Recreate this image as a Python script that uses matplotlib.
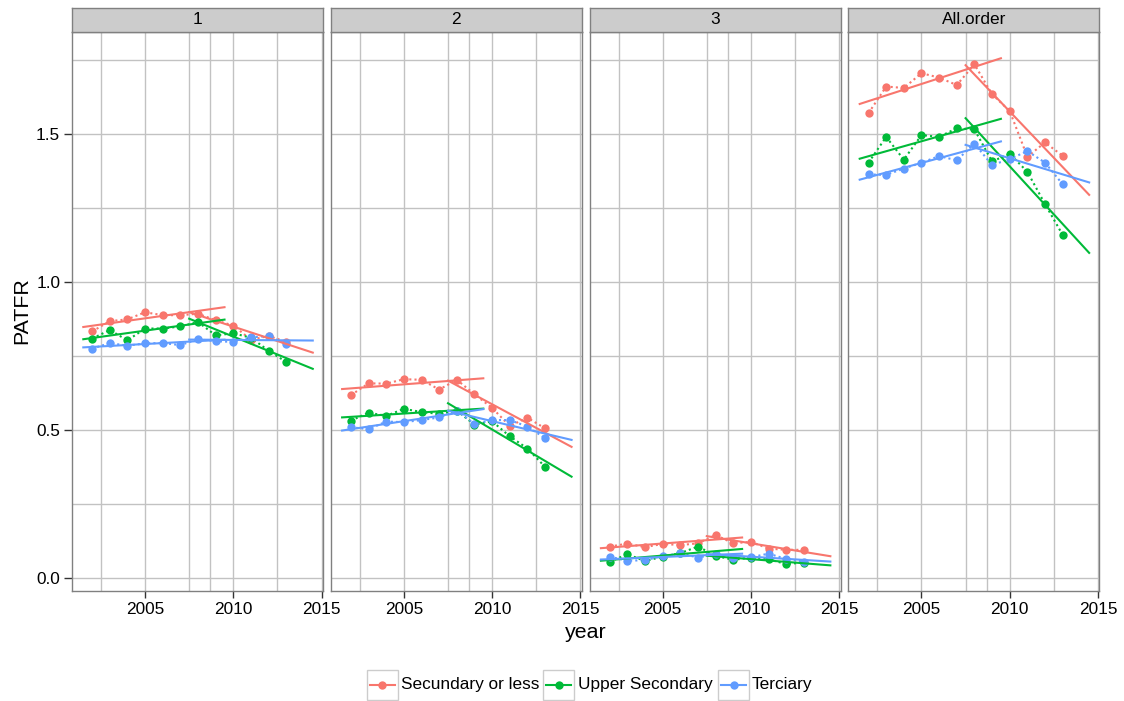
import numpy as np
import matplotlib
matplotlib.use("Agg")
import matplotlib.pyplot as plt
from matplotlib.patches import Rectangle
from matplotlib.lines import Line2D

plt.rcParams['font.family'] = ['Liberation Sans', 'DejaVu Sans']

years = [2002, 2003, 2004, 2005, 2006, 2007, 2008, 2009, 2010, 2011, 2012, 2013]
panels = ["1", "2", "3", "All.order"]
groups = ["Secundary or less", "Upper Secondary", "Terciary"]
colors = ["#F8766D", "#00BA38", "#619CFF"]

# PATFR values per panel (rows: groups)
p1_sec = [0.833, 0.868, 0.874, 0.898, 0.888, 0.888, 0.893, 0.871, 0.853, 0.805, 0.818, 0.798]
p1_upp = [0.809, 0.838, 0.803, 0.843, 0.843, 0.850, 0.865, 0.820, 0.827, 0.812, 0.768, 0.730]
p1_ter = [0.775, 0.794, 0.785, 0.793, 0.794, 0.787, 0.807, 0.800, 0.798, 0.813, 0.818, 0.790]

p2_sec = [0.618, 0.658, 0.657, 0.672, 0.670, 0.637, 0.670, 0.621, 0.575, 0.514, 0.542, 0.506]
p2_upp = [0.532, 0.559, 0.548, 0.572, 0.561, 0.555, 0.565, 0.519, 0.530, 0.479, 0.438, 0.376]
p2_ter = [0.510, 0.503, 0.529, 0.527, 0.534, 0.543, 0.566, 0.521, 0.534, 0.534, 0.512, 0.473]

p3_sec = [0.107, 0.117, 0.105, 0.116, 0.112, 0.118, 0.146, 0.118, 0.123, 0.100, 0.096, 0.096]
p3_upp = [0.056, 0.081, 0.058, 0.073, 0.085, 0.107, 0.076, 0.062, 0.070, 0.064, 0.048, 0.053]
p3_ter = [0.073, 0.059, 0.061, 0.075, 0.084, 0.070, 0.081, 0.070, 0.071, 0.083, 0.065, 0.056]

p4_sec = [1.570, 1.660, 1.655, 1.705, 1.690, 1.665, 1.735, 1.634, 1.577, 1.423, 1.471, 1.426]
p4_upp = [1.403, 1.490, 1.413, 1.496, 1.490, 1.519, 1.515, 1.407, 1.433, 1.372, 1.263, 1.159]
p4_ter = [1.363, 1.362, 1.383, 1.403, 1.425, 1.411, 1.467, 1.395, 1.415, 1.442, 1.403, 1.330]

data = [[p1_sec, p1_upp, p1_ter], [p2_sec, p2_upp, p2_ter],
        [p3_sec, p3_upp, p3_ter], [p4_sec, p4_upp, p4_ter]]

# fit periods and drawn ranges of the trend lines
period1 = (2002, 2008)
period2 = (2008, 2013)
span1 = (2001.5, 2009.5)
span2 = (2007.5, 2014.5)

x_ticks = [2005, 2010, 2015]
x_minor = [2002.5, 2007.5, 2012.5, 2008.7]
y_ticks = [0.0, 0.5, 1.0, 1.5]
y_minor = [0.25, 0.75, 1.25, 1.75]

W, H = 1124, 701
fig = plt.figure(figsize=(W / 100, H / 100), dpi=100)

def fx(px):
    return px / W

def fy(py):
    return 1 - py / H

panel_w = 251
panel_top, panel_bot = 32.3, 590.7
strip_top = 7.5
grid_c = "#c2c2c2"
border_c = "#808080"
ms = 6.0

yrs = np.array(years)
for i, name in enumerate(panels):
    left = 72 + i * 258.8
    ax = fig.add_axes([fx(left), fy(panel_bot), fx(panel_w), (panel_bot - panel_top) / H])
    ax.set_xlim(2000.86, 2015.08)
    ax.set_ylim(-0.042, 1.843)
    for v in x_ticks + x_minor:
        ax.axvline(v, color=grid_c, lw=1.0, zorder=0)
    for v in y_ticks + y_minor:
        ax.axhline(v, color=grid_c, lw=1.0, zorder=0)
    for g in range(3):
        vals = np.array(data[i][g])
        c = colors[g]
        ax.plot(yrs, vals, linestyle=(0, (1, 1.5)), color=c, lw=1.5, zorder=2)
        ax.plot(yrs, vals, 'o', color=c, ms=ms, mec='none', zorder=3)
        for per, span in ((period1, span1), (period2, span2)):
            m = (yrs >= per[0]) & (yrs <= per[1])
            coef = np.polyfit(yrs[m], vals[m], 1)
            xs = np.array(span)
            ax.plot(xs, np.polyval(coef, xs), color=c, lw=1.5, zorder=4)
    for s in ax.spines.values():
        s.set_color(border_c)
        s.set_linewidth(1.0)
    ax.set_xticks(x_ticks)
    ax.set_xticklabels([str(t) for t in x_ticks])
    ax.tick_params(axis='x', length=5, width=1, color='#333333', labelsize=12.4, pad=3)
    if i == 0:
        ax.set_yticks(y_ticks)
        ax.set_yticklabels(["%.1f" % t for t in y_ticks])
        ax.tick_params(axis='y', length=5.5, width=1, color='#333333', labelsize=12.4, pad=3)
    else:
        ax.set_yticks([])
    # strip
    sax = fig.add_axes([fx(left), fy(panel_top), fx(panel_w), (panel_top - strip_top) / H])
    sax.set_facecolor("#cccccc")
    sax.set_xticks([]); sax.set_yticks([])
    for s in sax.spines.values():
        s.set_color(border_c)
        s.set_linewidth(1.0)
    sax.text(0.5, 0.5, name, ha='center', va='center', fontsize=12.4, transform=sax.transAxes)

fig.text(fx(585.5), fy(632), "year", ha='center', va='center', fontsize=15.4)
fig.text(fx(22), fy(311), "PATFR", ha='center', va='center', rotation=90, fontsize=15.4)

# legend
box_left = [367, 543, 718]
text_left = [400.6, 578, 752]
ly = 685
bw, bh = 31, 30
for g in range(3):
    bx = box_left[g]
    fig.add_artist(Rectangle((fx(bx), fy(ly + bh / 2)), fx(bw), bh / H, facecolor='white',
                             edgecolor='#cccccc', lw=1.0, transform=fig.transFigure))
    fig.add_artist(Line2D([fx(bx + 3), fx(bx + bw - 3)], [fy(ly), fy(ly)], color=colors[g], lw=1.5,
                          transform=fig.transFigure))
    fig.add_artist(Line2D([fx(bx + bw / 2)], [fy(ly)], marker='o', ms=ms, mec='none', color=colors[g],
                          transform=fig.transFigure))
    fig.text(fx(text_left[g]), fy(ly), groups[g], ha='left', va='center', fontsize=12.4)

fig.savefig("out.png", dpi=100)
